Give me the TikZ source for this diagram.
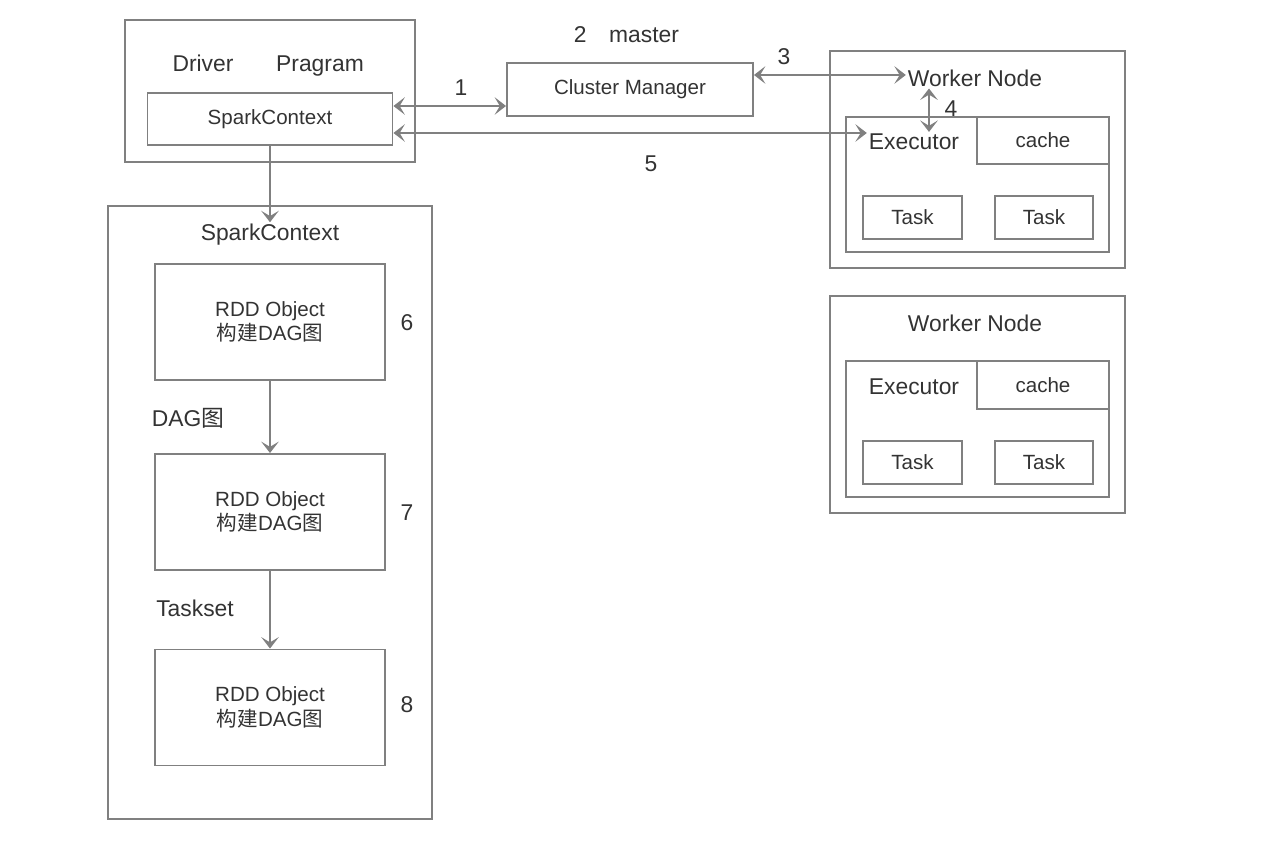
\documentclass[tikz,border=0pt]{standalone}
\usepackage{fontspec}
\setmainfont{Liberation Sans}
\newfontfamily\cjk{Noto Sans CJK SC}
\usetikzlibrary{arrows.meta,positioning}
\definecolor{linegray}{HTML}{808080}
\definecolor{textgray}{HTML}{333333}

\begin{document}
\begin{tikzpicture}[x=1cm,y=1cm,text=textgray,
    box/.style={rectangle,draw=linegray,line width=1.1pt,inner sep=0pt,font=\fontsize{11.7}{14}\selectfont,align=center},
    big/.style={font=\fontsize{13}{15}\selectfont,inner sep=1pt},
    frame/.style={draw=linegray,line width=1.1pt},
    arr/.style={draw=linegray,line width=1.1pt,-{Stealth[length=6.5pt,width=10pt,inset=3pt]}},
    dbl/.style={arr,{Stealth[length=6.5pt,width=10pt,inset=3pt]}-{Stealth[length=6.5pt,width=10pt,inset=3pt]}}]
      \useasboundingbox (0,0) rectangle (25.36,-16.84);

      % driver program
      \draw[frame] (2.5,-0.4) rectangle (8.3,-3.24);
      \node[big,anchor=base] (drv) at (4.06,-1.44) {Driver};
      \node[big,anchor=base] (prg) at (6.4,-1.44) {Pragram};
      \node[box,minimum width=4.9cm,minimum height=1.04cm] (sc) at (5.4,-2.38) {SparkContext};

      % cluster manager
      \node[big] (master) at (12.53,-0.7) {2\hspace{0.45cm}master};
      \node[box,minimum width=4.92cm,minimum height=1.06cm] (cm) at (12.6,-1.79) {Cluster Manager};

      % worker nodes
      \draw[frame] (16.6,-1.02) rectangle (22.5,-5.36);
      \node[big] (wn1) at (19.5,-1.56) {Worker Node};
      \draw[frame] (16.92,-2.34) rectangle (22.18,-5.04);
      \node[box,minimum width=2.64cm,minimum height=0.94cm] (ca1) at (20.86,-2.81) {cache};
      \node[big] (ex1) at (18.28,-2.84) {Executor};
      \node[box,minimum width=1.98cm,minimum height=0.86cm] (t11) at (18.25,-4.35) {Task};
      \node[box,minimum width=1.96cm,minimum height=0.86cm] (t12) at (20.88,-4.35) {Task};

      \draw[frame] (16.6,-5.92) rectangle (22.5,-10.26);
      \node[big] (wn2) at (19.5,-6.46) {Worker Node};
      \draw[frame] (16.92,-7.22) rectangle (22.18,-9.94);
      \node[box,minimum width=2.64cm,minimum height=0.96cm] (ca2) at (20.86,-7.7) {cache};
      \node[big] (ex2) at (18.28,-7.74) {Executor};
      \node[box,minimum width=1.98cm,minimum height=0.86cm] (t21) at (18.25,-9.25) {Task};
      \node[box,minimum width=1.96cm,minimum height=0.86cm] (t22) at (20.88,-9.25) {Task};

      % spark context
      \draw[frame] (2.16,-4.12) rectangle (8.64,-16.38);
      \node[big] (sc2) at (5.4,-4.7) {SparkContext};
      \node[box,minimum width=4.6cm,minimum height=2.32cm] (rdd1) at (5.4,-6.44) {RDD Object\\{\cjk 构建}DAG{\cjk 图}};
      \node[box,minimum width=4.6cm,minimum height=2.32cm] (rdd2) at (5.4,-10.24) {RDD Object\\{\cjk 构建}DAG{\cjk 图}};
      \node[box,minimum width=4.6cm,minimum height=2.32cm] (rdd3) at (5.4,-14.15) {RDD Object\\{\cjk 构建}DAG{\cjk 图}};
      \node[big] (n6) at (8.14,-6.46) {6};
      \node[big] (n7) at (8.14,-10.26) {7};
      \node[big] (n8) at (8.14,-14.1) {8};
      \node[big] (dag) at (3.76,-8.36) {DAG{\cjk 图}};
      \node[big] (tset) at (3.9,-12.16) {Taskset};

      % connections
      \coordinate (p1) at ([yshift=0.26cm]sc.east);
      \draw[dbl] (p1) -- (p1 -| cm.west);
      \node[big] (n1) at (9.22,-1.76) {1};
      \coordinate (p3) at ([yshift=0.29cm]cm.east);
      \draw[dbl] (p3) -- (p3 -| wn1.west);
      \node[big] (n3) at (15.68,-1.14) {3};
      \coordinate (p4) at ([xshift=0.3cm]ex1.north);
      \draw[dbl] (p4 |- wn1.south) -- (p4);
      \node[big] (n4) at (19.02,-2.18) {4};
      \coordinate (p5) at ([yshift=-0.28cm]sc.east);
      \draw[dbl] (p5) -- (p5 -| ex1.west);
      \node[big] (n5) at (13.02,-3.28) {5};

      % dag flow
      \draw[arr] (sc.south) -- (sc2.north);
      \draw[arr] (rdd1) -- (rdd2);
      \draw[arr] (rdd2) -- (rdd3);

\end{tikzpicture}
\end{document}
